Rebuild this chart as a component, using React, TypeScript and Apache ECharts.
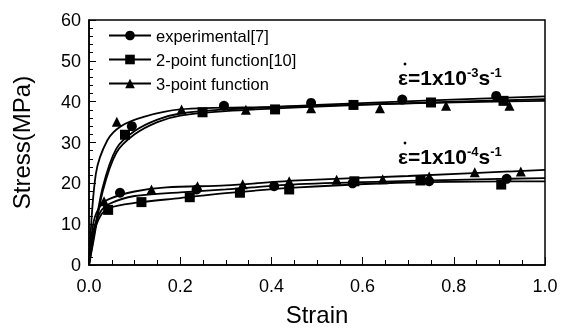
import React, { useEffect, useRef } from "react";
import * as echarts from "echarts";

const seriesNames = ["experimental[7]", "2-point function[10]", "3-point function"];

// strain rate 1e-3 curves [strain, stress]
const expHighCurve = [[0, 0], [0.015, 22.3], [0.04, 30.5], [0.07, 34.0], [0.12, 36.3], [0.2, 38.1], [0.4, 38.7], [0.7, 39.6], [1.0, 40.2]];
const fit2HighCurve = [[0, 0], [0.01, 6], [0.03, 18], [0.06, 27.5], [0.1, 32], [0.15, 35], [0.2, 36.6], [0.3, 37.7], [0.5, 38.8], [0.75, 39.8], [1.0, 40.6]];
const fit3HighCurve = [[0, 0], [0.01, 6.8], [0.03, 19], [0.06, 28.5], [0.1, 32.8], [0.15, 35.6], [0.2, 37.1], [0.3, 38.1], [0.5, 39.2], [0.75, 40.3], [1.0, 41.3]];

// strain rate 1e-4 curves
const expLowCurve = [[0, 0], [0.01, 8.5], [0.025, 13], [0.045, 15], [0.1, 16.9], [0.2, 17.8], [0.3, 18.5], [0.46, 19.8], [0.7, 20.6], [1.0, 21.3]];
const fit2LowCurve = [[0, 0], [0.01, 7.5], [0.025, 12], [0.045, 14], [0.1, 15.2], [0.2, 16.4], [0.3, 17.6], [0.46, 19.0], [0.7, 20.2], [1.0, 20.5]];
const fit3LowCurve = [[0, 0], [0.01, 10.5], [0.025, 14.5], [0.045, 16.2], [0.1, 18], [0.17, 19], [0.3, 19.5], [0.46, 20.7], [0.7, 21.8], [1.0, 23.3]];

// markers
const expHighMarks = [[0.094, 34.0], [0.296, 39.0], [0.487, 39.7], [0.687, 40.5], [0.893, 41.4]];
const fit2HighMarks = [[0.079, 31.9], [0.249, 37.4], [0.408, 38.1], [0.58, 39.2], [0.75, 39.8], [0.909, 40.2]];
const fit3HighMarks = [[0.061, 35.1], [0.203, 38.1], [0.344, 38.0], [0.487, 38.4], [0.638, 38.4], [0.783, 39.0], [0.922, 39.0]];
const expLowMarks = [[0.068, 17.7], [0.236, 18.5], [0.406, 19.3], [0.578, 20.0], [0.746, 20.5], [0.916, 21.1]];
const fit2LowMarks = [[0.042, 13.5], [0.115, 15.4], [0.221, 16.6], [0.331, 17.7], [0.439, 18.5], [0.582, 20.5], [0.727, 20.7], [0.904, 19.7]];
const fit3LowMarks = [[0.033, 15.6], [0.137, 18.5], [0.238, 19.3], [0.337, 19.8], [0.439, 20.5], [0.543, 20.9], [0.644, 21.0], [0.746, 21.7], [0.846, 22.7], [0.947, 22.9]];

const FONT = "'Liberation Sans', Arial, sans-serif";

export default function App() {
  const ref = useRef<HTMLDivElement>(null);
  useEffect(() => {
    if (!ref.current) return;
    const chart = echarts.init(ref.current, undefined, { renderer: "svg" });
    const lineS = (name: string, data: number[][], symbol: string) => ({
      type: "line",
      name,
      data,
      smooth: 0.3,
      symbol,
      showSymbol: false,
      lineStyle: { color: "#000", width: 1.8 },
      itemStyle: { color: "#000" },
      z: 2,
    });
    const markS = (name: string, data: number[][], symbol: string, size: number) => ({
      type: "scatter",
      name: name + " marks",
      data,
      symbol,
      symbolSize: size,
      itemStyle: { color: "#000", opacity: 1 },
      z: 3,
    });
    const symbols = ["circle", "rect", "triangle"];
    const rich = {
      b: { fontFamily: FONT, fontSize: 21, fontWeight: "bold", fill: "#000", lineHeight: 22 },
      s: { fontFamily: FONT, fontSize: 13, fontWeight: "bold", fill: "#000", lineHeight: 12, verticalAlign: "top" },
    };
    chart.setOption({
      animation: false,
      grid: {
        left: 89, right: 22, top: 20, bottom: 63,
        show: true, borderColor: "#000", borderWidth: 1.5, backgroundColor: "transparent",
      },
      legend: {
        data: seriesNames,
        orient: "vertical",
        left: 108,
        top: 27,
        padding: 0,
        itemWidth: 42,
        itemHeight: 12,
        itemGap: 7,
        textStyle: { fontFamily: FONT, fontSize: 16.5, color: "#000" },
      },
      xAxis: {
        type: "value",
        min: 0, max: 1, interval: 0.2,
        axisLine: { lineStyle: { color: "#000", width: 1.5 } },
        axisTick: { inside: true, length: 8, lineStyle: { color: "#000" } },
        minorTick: { show: true, splitNumber: 4, length: 5, lineStyle: { color: "#000" } },
        splitLine: { show: false },
        axisLabel: { fontFamily: FONT, fontSize: 18, color: "#000", margin: 12, formatter: (v: number) => v.toFixed(1) },
        name: "Strain",
        nameLocation: "middle",
        nameGap: 37,
        nameTextStyle: { fontFamily: FONT, fontSize: 24, color: "#000" },
      },
      yAxis: {
        type: "value",
        min: 0, max: 60, interval: 10,
        axisLine: { show: true, lineStyle: { color: "#000", width: 1.5 } },
        axisTick: { show: true, inside: true, length: 7, lineStyle: { color: "#000" } },
        minorTick: { show: true, splitNumber: 5, length: 4, lineStyle: { color: "#000" } },
        splitLine: { show: false },
        axisLabel: { fontFamily: FONT, fontSize: 18, color: "#000", margin: 8 },
        name: "Stress(MPa)",
        nameLocation: "middle",
        nameGap: 56,
        nameTextStyle: { fontFamily: FONT, fontSize: 24, color: "#000" },
      },
      graphic: [
        { type: "text", left: 398, top: 66, style: { text: "{b|ε=1x10}{s|-3}{b|s}{s|-1}", rich } },
        { type: "circle", shape: { cx: 405, cy: 64, r: 1.4 }, style: { fill: "#000" } },
        { type: "text", left: 398, top: 145, style: { text: "{b|ε=1x10}{s|-4}{b|s}{s|-1}", rich } },
        { type: "circle", shape: { cx: 405, cy: 143, r: 1.4 }, style: { fill: "#000" } },
      ],
      series: [
        lineS(seriesNames[0], expHighCurve, symbols[0]),
        lineS(seriesNames[1], fit2HighCurve, symbols[1]),
        lineS(seriesNames[2], fit3HighCurve, symbols[2]),
        lineS(seriesNames[0], expLowCurve, symbols[0]),
        lineS(seriesNames[1], fit2LowCurve, symbols[1]),
        lineS(seriesNames[2], fit3LowCurve, symbols[2]),
        markS(seriesNames[0], expHighMarks, symbols[0], 10),
        markS(seriesNames[1], fit2HighMarks, symbols[1], 10),
        markS(seriesNames[2], fit3HighMarks, symbols[2], 10),
        markS(seriesNames[0], expLowMarks, symbols[0], 10),
        markS(seriesNames[1], fit2LowMarks, symbols[1], 10),
        markS(seriesNames[2], fit3LowMarks, symbols[2], 10),
      ],
    });
    return () => chart.dispose();
  }, []);
  return <div ref={ref} style={{ position: "fixed", left: 0, top: 0, width: 567, height: 331 }} />;
}
